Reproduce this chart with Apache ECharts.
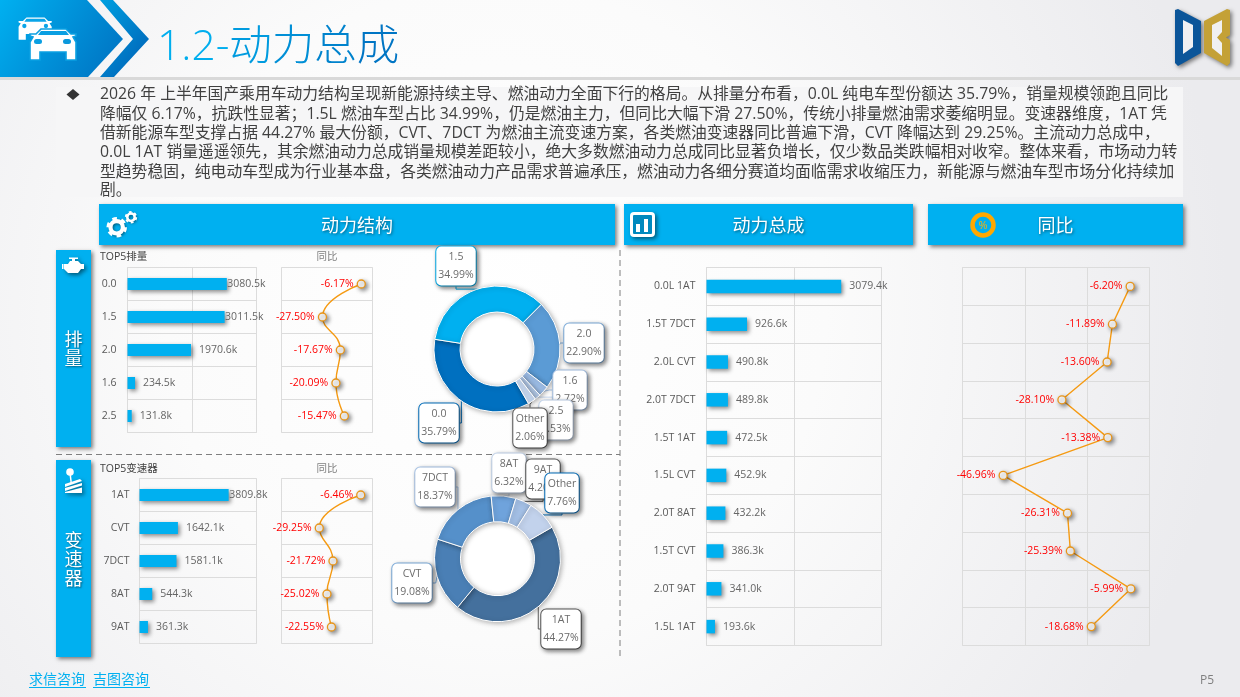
<!DOCTYPE html>
<html lang="zh"><head><meta charset="utf-8">
<script src="https://cdn.jsdelivr.net/npm/echarts@6/dist/echarts.min.js"></script>
<style>html,body{margin:0;padding:0;width:1240px;height:697px;overflow:hidden}#c{width:1240px;height:697px}</style>
</head><body><div id="c"></div>
<script>
// ---- data ----
const dispCats = ['0.0','1.5','2.0','1.6','2.5'];
const dispSales = [3080.5,3011.5,1970.6,234.5,131.8];
const dispYoy = [-6.17,-27.50,-17.67,-20.09,-15.47];
const gearCats = ['1AT','CVT','7DCT','8AT','9AT'];
const gearSales = [3809.8,1642.1,1581.1,544.3,361.3];
const gearYoy = [-6.46,-29.25,-21.72,-25.02,-22.55];
const ptCats = ['0.0L 1AT','1.5T 7DCT','2.0L CVT','2.0T 7DCT','1.5T 1AT','1.5L CVT','2.0T 8AT','1.5T CVT','2.0T 9AT','1.5L 1AT'];
const ptSales = [3079.4,926.6,490.8,489.8,472.5,452.9,432.2,386.3,341.0,193.6];
const ptYoy = [-6.20,-11.89,-13.60,-28.10,-13.38,-46.96,-26.31,-25.39,-5.99,-18.68];
const dispPieNames = ['0.0','1.5','2.0','1.6','2.5','Other'];
const dispPieShare = [35.79,34.99,22.90,2.72,1.53,2.06];
const gearPieNames = ['1AT','CVT','7DCT','8AT','9AT','Other'];
const gearPieShare = [44.27,19.08,18.37,6.32,4.20,7.76];
const bodyLines = [
 '2026 年 上半年国产乘用车动力结构呈现新能源持续主导、燃油动力全面下行的格局。从排量分布看，0.0L 纯电车型份额达 35.79%，销量规模领跑且同比',
 '降幅仅 6.17%，抗跌性显著；1.5L 燃油车型占比 34.99%，仍是燃油主力，但同比大幅下滑 27.50%，传统小排量燃油需求萎缩明显。变速器维度，1AT 凭',
 '借新能源车型支撑占据 44.27% 最大份额，CVT、7DCT 为燃油主流变速方案，各类燃油变速器同比普遍下滑，CVT 降幅达到 29.25%。主流动力总成中，',
 '0.0L 1AT 销量遥遥领先，其余燃油动力总成销量规模差距较小，绝大多数燃油动力总成同比显著负增长，仅少数品类跌幅相对收窄。整体来看，市场动力转',
 '型趋势稳固，纯电动车型成为行业基本盘，各类燃油动力产品需求普遍承压，燃油动力各细分赛道均面临需求收缩压力，新能源与燃油车型市场分化持续加',
 '剧。'
];
// ---- styling / layout ----
const FONT = '"Open Sans","Noto Sans CJK SC",sans-serif';
const BLUE = '#00B0F0', ORANGE = '#F59A12';
const dispPieColors = ['#0070C0','#00B0F0','#5B9BD5','#9DBDE6','#B4CBEA','#C6D7EF'];
const gearPieColors = ['#44709D','#4A7FB5','#5590CA','#6FA3DC','#A3BFE5','#C2D2EC'];
const dispBoxBorders = ['#0070C0','#00B0F0','#7FB0E0','#A9C6EA','#C6D7EF','#595959'];
const gearBoxBorders = ['#595959','#7FB0E0','#A9C6EA','#C6D7EF','#595959','#0070C0'];
const dispBoxPos = [[439,423],[456,266],[584,343],[570,390],[556,420],[530,428]];
const gearBoxPos = [[561,629],[412,583],[435,487],[509,473],[543,479],[562,493]];
const shadow = {shadowBlur:4,shadowColor:'rgba(0,0,0,0.45)',shadowOffsetX:2,shadowOffsetY:2};

const grids = [
 {left:127.5,top:267.5,width:129,height:165},   // 0 disp bars
 {left:281.5,top:267.5,width:91,height:165},    // 1 disp yoy
 {left:139.5,top:478.5,width:117,height:165},   // 2 gear bars
 {left:281.5,top:478.5,width:91,height:165},    // 3 gear yoy
 {left:706.5,top:267.5,width:175,height:378},   // 4 pt bars
 {left:962.5,top:267.5,width:187,height:378}    // 5 pt yoy
].map(g=>Object.assign({show:true,borderColor:'#DCDCDC',borderWidth:1,backgroundColor:'transparent',containLabel:false},g));

const valueAxis=(i,min,max,interval,split)=>({type:'value',gridIndex:i,min,max,interval,
  axisLabel:{show:false},axisTick:{show:false},axisLine:{show:false},
  splitLine:{show:split,lineStyle:{color:'#DCDCDC',width:1}}});
const catAxis=(i,data,showLabel,margin)=>({type:'category',gridIndex:i,data,inverse:true,
  axisTick:{show:false},axisLine:{show:false},
  splitLine:{show:true,lineStyle:{color:'#DCDCDC',width:1}},
  axisLabel:{show:showLabel,margin,color:'#595959',fontSize:10.5,fontFamily:FONT}});

const barSeries=(i,vals,max,w)=>({type:'bar',xAxisIndex:i,yAxisIndex:i,barWidth:w,silent:true,
  itemStyle:Object.assign({color:BLUE},shadow),
  data:vals.map(v=>({value:v,label:{distance:v/max>0.7&&(i<4)?0.5:8}})),
  label:{show:true,position:'right',color:'#666',fontSize:10.5,fontFamily:FONT,formatter:p=>p.value.toFixed(1)+'k'}});
const lineSeries=(i,vals,smooth)=>({type:'line',xAxisIndex:i,yAxisIndex:i,smooth,silent:true,
  symbol:'circle',symbolSize:8,z:5,
  lineStyle:{color:ORANGE,width:1.4},
  itemStyle:Object.assign({color:'#fff',borderColor:'#E8951A',borderWidth:1.3},shadow),
  data:vals,
  label:{show:true,position:'left',distance:3,color:'#FF0000',fontSize:10.5,fontFamily:FONT,formatter:p=>p.value.toFixed(2)+'%'}});
const pieSeries=(center,names,vals,colors,borders,pos,startAngle)=>({type:'pie',center,radius:[37,63],startAngle,silent:true,
  avoidLabelOverlap:false,z:4,
  itemStyle:{borderColor:'#fff',borderWidth:1,shadowBlur:5,shadowColor:'rgba(0,0,0,0.3)',shadowOffsetX:1,shadowOffsetY:1},
  labelLine:{show:true,length:6,length2:3,smooth:false},
  labelLayout:p=>({x:pos[p.dataIndex][0],y:pos[p.dataIndex][1],align:'center',verticalAlign:'middle',hideOverlap:false}),
  data:vals.map((v,k)=>({name:names[k],value:v,
    itemStyle:{color:colors[k]},
    labelLine:{lineStyle:{color:borders[k],width:1}},
    label:{borderColor:borders[k]}})),
  label:{show:true,position:'outside',formatter:p=>p.name+'\n'+p.value.toFixed(2)+'%',color:'#6b6b6b',fontSize:10.5,lineHeight:18,
    fontFamily:FONT,backgroundColor:'#fff',borderWidth:1,borderRadius:5,padding:[2,2,1,2],align:'center',
    shadowBlur:4,shadowColor:'rgba(0,0,0,0.45)',shadowOffsetX:2,shadowOffsetY:2}});

// ---- decorations ----
const G=[];
const BG='#F0F0F2';
const txt=(x,y,text,size,fill,extra)=>G.push(Object.assign({type:'text',z:20,x,y:y+1.5,silent:true,
  style:Object.assign({text,fontSize:size,fontFamily:FONT,fill,textVerticalAlign:'middle',verticalAlign:'middle'},extra||{})}));
const poly=(points,style,z)=>G.push({type:'polygon',z:z||3,silent:true,shape:{points},style});
const parse=d=>d.split('M').filter(s=>s.trim()).map(s=>{const n=s.replace(/[Z]/g,'').trim().split(/L/).map(p=>p.trim().split(/\s+/).map(Number));return n;});
const path=(d,style,z,hole)=>parse(d).forEach((pts,i)=>poly(pts,i===0||!hole?style:{fill:hole},(z||6)+(i?1:0)));
const rect=(x,y,w,h,style,z,r)=>G.push({type:'rect',z:z||3,silent:true,shape:{x,y,width:w,height:h,r:r||0},style});
const circ=(cx,cy,r,style,z)=>G.push({type:'circle',z:z||6,silent:true,shape:{cx,cy,r},style});
const grad=(c0,c1,x2,y2)=>({type:'linear',x:0,y:0,x2:x2,y2:y2,colorStops:[{offset:0,color:c0},{offset:1,color:c1}]});
const boxShadow={shadowBlur:4,shadowColor:'rgba(0,0,0,0.5)',shadowOffsetX:2,shadowOffsetY:2};

// header
poly([[0,0],[87,0],[123,39],[88,77],[0,77]],{fill:grad('#00B0F0','#0070C0',1,1)});
poly([[100,0],[133,39],[100,77],[114,77],[149,39],[113,0]],{fill:grad('#00A0E0','#0070C0',1,0.5)});
rect(0,77,1240,3,{fill:'#D9D9D9'});
// cars
const carD='M36 34L41 29L66 29L71 34L76 34L76 36L73 37L76 42L76 60L66 60L66 52L40 52L40 60L30 60L30 42L33 37L30 36L30 34Z';
G.push({type:'group',silent:true,x:-3,y:-3.5,scaleX:0.72,scaleY:0.72,children:[
 {type:'polygon',z:5,shape:{points:parse(carD)[0]},style:{fill:'#fff'}},
 {type:'circle',z:5,shape:{cx:38,cy:41,r:3},style:{fill:'#0AA5E8'}},
 {type:'circle',z:5,shape:{cx:68,cy:41,r:3},style:{fill:'#0AA5E8'}},
 {type:'polygon',z:5,shape:{points:[[38,35],[41,31],[66,31],[69,35]]},style:{fill:'#0AA5E8'}}]});
path(carD,{fill:'#fff',stroke:'#0AA0E2',lineWidth:1.6},6);
path('M38 35L41 31L66 31L69 35Z',{fill:'#0A9FE2'},7);
rect(34,39,8,5,{fill:'#0A9FE2'},7,2.5); rect(63,39,8,5,{fill:'#0A98DC'},7,2.5);
// title: one colour step per segment, giving the left-to-right fade
const titleSegs=[['a','1.2-','#00AEEE'],['b','动','#009BDF'],['c','力','#008FD6'],['d','总','#0083CD'],['e','成','#0075C4']];
const titleRich={};
titleSegs.forEach(s=>{titleRich[s[0]]={fontSize:42.5,fontFamily:FONT,fontWeight:300,fill:s[2],color:s[2]};});
G.push({type:'text',z:20,x:157,y:47.5,silent:true,style:{text:titleSegs.map(s=>'{'+s[0]+'|'+s[1]+'}').join(''),rich:titleRich,fontSize:42.5,fontFamily:FONT,verticalAlign:'middle',textVerticalAlign:'middle'}});
// logo
path('M1175 10L1178 9L1201 21L1201 53L1178 66L1175 63Z M1183 20L1183 54L1193 47L1193 25Z',Object.assign({fill:'#0B5599'},boxShadow),6,BG);
path('M1204 21L1227 9L1230 10L1230 35L1226 37.5L1230 40L1230 63L1227 66L1204 53Z M1212 25L1212 48L1222 56L1222 43L1217 37.5L1222 32L1222 20Z',Object.assign({fill:'#C4A137'},boxShadow),6,BG);
// paragraph
rect(56,87,1127,110,{fill:'#F6F6F7'},1);
poly([[73,89],[79.5,94.5],[73,100],[66.5,94.5]],{fill:'#333'});
bodyLines.forEach((l,i)=>txt(100,[93,113,132,151,171,189][i],l,15.8,'#404040'));
// section bars
[[99,516,'动力结构'],[624,289,'动力总成'],[928,255,'同比']].forEach(b=>{
  rect(b[0],204,b[1],41,Object.assign({fill:BLUE},boxShadow),2);
  txt(b[0]+b[1]/2,225,b[2],18,'#fff',{textAlign:'center',align:'center',textShadowBlur:3,textShadowColor:'rgba(0,0,0,0.5)',textShadowOffsetX:1,textShadowOffsetY:1});
});
// gears
const gear=(cx,cy,r)=>{circ(cx,cy,r*0.62,{fill:'none',stroke:'#fff',lineWidth:r*0.42,shadowBlur:3,shadowColor:'rgba(0,0,0,.5)',shadowOffsetX:1,shadowOffsetY:1});
  circ(cx,cy,r*0.88,{fill:'none',stroke:'#fff',lineWidth:r*0.3,lineDash:[r*0.46,r*0.46]});};
gear(116.7,227.3,10); gear(131,217.3,6);
// chart icon
rect(630,212,25,25,Object.assign({fill:'#fff'},boxShadow),6,4);
rect(633,215,19,19,{fill:'#0089BE'},7,1);
rect(636,224,4,8,{fill:'#fff'},8); rect(644,219,4,13,{fill:'#fff'},8);
// percent icon
circ(983,225,10.5,{fill:BLUE,stroke:'#FFA800',lineWidth:4.5});
txt(983,224,'%',11,'#FFB000',{textAlign:'center',align:'center'});
// side bars
[[250,197,['排','量'],[339,358]],[460,197,['变','速','器'],[540,559,578]]].forEach(s=>{
  rect(56,s[0],35,s[1],Object.assign({fill:BLUE},boxShadow),2);
  s[2].forEach((c,i)=>txt(73.5,s[3][i],c,18,'#fff',{textAlign:'center',align:'center',textShadowBlur:2,textShadowColor:'rgba(0,0,0,0.5)',textShadowOffsetX:1,textShadowOffsetY:1}));
});
// engine icon
path('M64 264L68 264L70 261L72 261L72 259L69 259L69 257.5L78 257.5L78 259L75 259L75 261L78 261L81 264L84 264L84 269L81 269L78 273L68 273L64 269Z',Object.assign({fill:'#fff'},boxShadow));
rect(62,264,1.5,5,{fill:'#fff'},6);
// shifter icon
circ(70,472,3.8,{fill:'#fff'});
path('M69.5 475L71 475L72 483L70.5 483Z',{fill:'#fff'});
path('M65 484L80 479L82 481L65 487Z M65 488L82 483L82 485.5L65 491Z M65 492L82 487.5L82 493L65 493Z',Object.assign({fill:'#fff'},boxShadow));
// small titles
txt(100,255.5,'TOP5排量',10.5,'#404040');
txt(327,255.5,'同比',10.5,'#7F7F7F',{textAlign:'center',align:'center'});
txt(100,467.5,'TOP5变速器',10.5,'#404040');
txt(327,467.5,'同比',10.5,'#7F7F7F',{textAlign:'center',align:'center'});
// dashed
G.push({type:'line',z:3,silent:true,shape:{x1:56,y1:454.5,x2:620,y2:454.5},style:{stroke:'#7F7F7F',lineWidth:1,lineDash:[6,4]}});
G.push({type:'line',z:3,silent:true,shape:{x1:620,y1:250,x2:620,y2:660},style:{stroke:'#7F7F7F',lineWidth:1,lineDash:[6,4]}});
// pie holes
circ(497,349,37,{fill:'#fff'},1); circ(497.5,558.7,37,{fill:'#fff'},1);
// footer
txt(29,679,'求信咨询',14,BLUE); txt(93,679,'吉图咨询',14,BLUE);
rect(29,687,57,1,{fill:BLUE},3); rect(93,687,57,1,{fill:BLUE},3);
txt(1200,679.5,'P5',12,'#7F7F7F');

const option={
 animation:false,
 backgroundColor:{type:'radial',x:0.4,y:0.45,r:1.05,colorStops:[{offset:0,color:'#FFFFFF'},{offset:0.45,color:'#FBFBFB'},{offset:1,color:'#EBEBEE'}]},
 textStyle:{fontFamily:FONT},
 grid:grids,
 xAxis:[valueAxis(0,0,4000,2000,true),valueAxis(1,-50,0,50,false),valueAxis(2,0,5000,5000,false),valueAxis(3,-50,0,50,false),valueAxis(4,0,4000,2000,true),valueAxis(5,-60,0,20,true)],
 yAxis:[catAxis(0,dispCats,true,11),catAxis(1,dispCats,false,0),catAxis(2,gearCats,true,10),catAxis(3,gearCats,false,0),catAxis(4,ptCats,true,11),catAxis(5,ptCats,false,0)],
 series:[
  barSeries(0,dispSales,4000,12),lineSeries(1,dispYoy,0.5),
  barSeries(2,gearSales,5000,12),lineSeries(3,gearYoy,0.5),
  barSeries(4,ptSales,4000,13.5),lineSeries(5,ptYoy,false),
  pieSeries([497,349],dispPieNames,dispPieShare,dispPieColors,dispBoxBorders,dispBoxPos,300),
  pieSeries([497.5,558.7],gearPieNames,gearPieShare,gearPieColors,gearBoxBorders,gearBoxPos,30)
 ],
 graphic:{elements:G}
};
echarts.init(document.getElementById('c'),null,{renderer:'canvas'}).setOption(option);
</script></body></html>
